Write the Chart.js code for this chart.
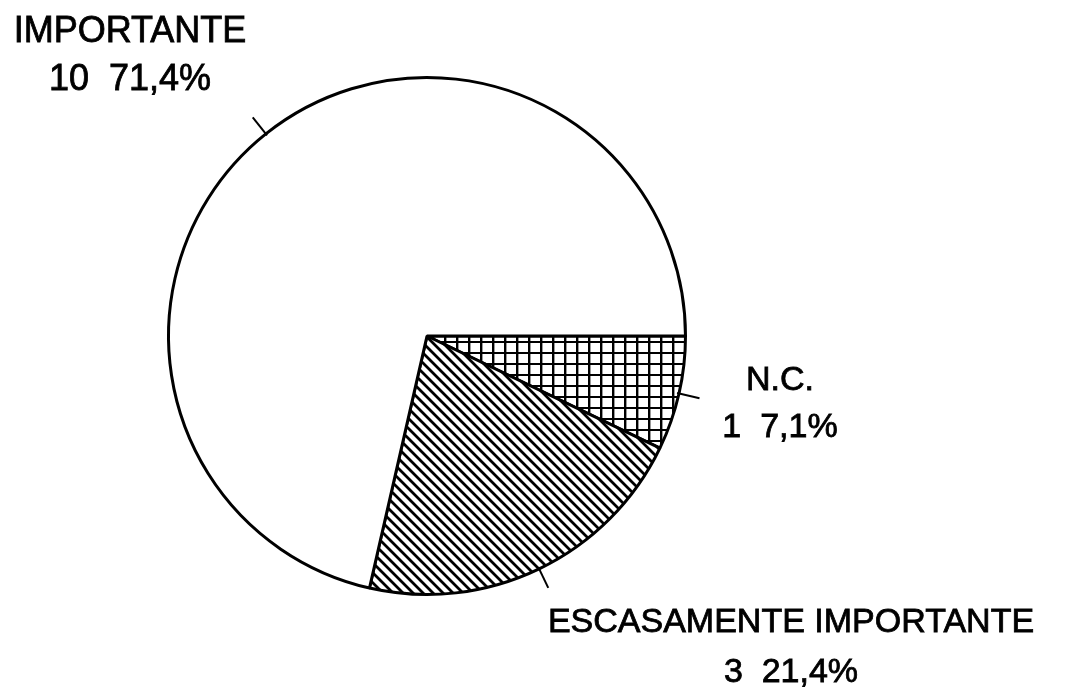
<!DOCTYPE html>
<html>
<head>
<meta charset="utf-8">
<script src="https://cdn.jsdelivr.net/npm/chart.js@4/dist/chart.umd.min.js"></script>
<style>
  html, body { margin: 0; padding: 0; background: #fff; }
  #pie { display: block; }
</style>
</head>
<body>
<canvas id="pie" width="1088" height="687"></canvas>
<script>
// Slices, clockwise from 3 o'clock
const categories = ['N.C.', 'ESCASAMENTE IMPORTANTE', 'IMPORTANTE'];
const counts = [1, 3, 10];
const percents = ['7,1%', '21,4%', '71,4%'];

// Label placement (center x, first baseline, font size) per slice
const labelLayout = [
    { x: 780, y: 390, size: 34, gap: 47 },
    { x: 791, y: 632, size: 34, gap: 50 },
    { x: 130, y: 42, size: 36, gap: 48 }
];

// Hatch fills
function diagonalPattern() {
    const c = document.createElement('canvas');
    c.width = 10; c.height = 10;
    const g = c.getContext('2d');
    g.fillStyle = '#fff';
    g.fillRect(0, 0, 10, 10);
    g.strokeStyle = '#000';
    g.lineWidth = 2.8;
    g.beginPath();
    g.moveTo(-2, -2); g.lineTo(12, 12);
    g.moveTo(-2, 8); g.lineTo(2, 12);
    g.moveTo(8, -2); g.lineTo(12, 2);
    g.stroke();
    return g.createPattern(c, 'repeat');
}

function gridPattern() {
    const c = document.createElement('canvas');
    c.width = 12; c.height = 11;
    const g = c.getContext('2d');
    g.fillStyle = '#fff';
    g.fillRect(0, 0, 12, 11);
    g.fillStyle = '#000';
    g.fillRect(0, 0, 2.4, 11);
    g.fillRect(0, 0, 12, 2);
    return g.createPattern(c, 'repeat');
}

// Leader ticks and two-line labels
const sliceLabels = {
    id: 'sliceLabels',
    afterDraw(chart) {
        const ctx = chart.ctx;
        const arcs = chart.getDatasetMeta(0).data;
        ctx.save();
        arcs.forEach((arc, i) => {
            const mid = (arc.startAngle + arc.endAngle) / 2;
            const r = arc.outerRadius;
            ctx.strokeStyle = '#000';
            ctx.lineWidth = 2;
            ctx.beginPath();
            ctx.moveTo(arc.x + Math.cos(mid) * (r - 2), arc.y + Math.sin(mid) * (r - 2));
            ctx.lineTo(arc.x + Math.cos(mid) * (r + 21), arc.y + Math.sin(mid) * (r + 21));
            ctx.stroke();

            const l = labelLayout[i];
            ctx.fillStyle = '#000';
            ctx.textAlign = 'center';
            ctx.textBaseline = 'alphabetic';
            ctx.font = l.size + 'px "Liberation Sans", Arial, sans-serif';
            ctx.lineWidth = 0.8;
            const line2 = counts[i] + '  ' + percents[i];
            ctx.fillText(categories[i], l.x, l.y);
            ctx.strokeText(categories[i], l.x, l.y);
            ctx.fillText(line2, l.x, l.y + l.gap);
            ctx.strokeText(line2, l.x, l.y + l.gap);
        });
        ctx.restore();
    }
};

new Chart(document.getElementById('pie'), {
    type: 'pie',
    data: {
        labels: categories,
        datasets: [{
            data: counts,
            backgroundColor: [gridPattern(), diagonalPattern(), '#ffffff'],
            borderColor: '#000',
            borderWidth: 3,
            borderAlign: 'center'
        }]
    },
    options: {
        responsive: false,
        animation: false,
        rotation: 90,
        layout: {
            padding: { left: 167, right: 401, top: 76, bottom: 91 }
        },
        plugins: {
            legend: { display: false },
            tooltip: { enabled: false }
        }
    },
    plugins: [sliceLabels]
});
</script>
</body>
</html>
